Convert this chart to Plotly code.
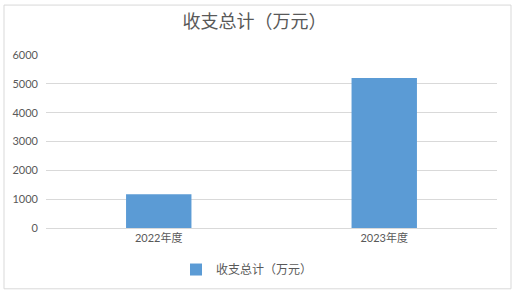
import plotly.graph_objects as go

categories = ["2022年度", "2023年度"]
values = [1170, 5200]
series_name = "收支总计（万元）"
title_text = "收支总计（万元）"
y_ticks = [0, 1000, 2000, 3000, 4000, 5000, 6000]

W, H = 515, 296
L, R, T, B = 46, 18, 55, 66
pw, ph = W - L - R, H - T - B

def px2paper_x(px):
    return (px - L) / pw

def px2paper_y(py):
    return (H - B - py) / ph

fig = go.Figure()
fig.add_trace(go.Bar(
    x=categories, y=values, name=series_name,
    marker=dict(color="#5B9BD5", line=dict(width=0)),
    width=0.29, showlegend=True,
))

fig.update_layout(
    width=W, height=H,
    margin=dict(l=L, r=R, t=T, b=B),
    paper_bgcolor="white", plot_bgcolor="white",
    title=dict(text=title_text, x=0.494, xref="container", xanchor="center",
               y=1 - 22 / H, yanchor="middle",
               font=dict(family="Noto Sans CJK SC", size=18, color="#595959")),
    font=dict(family="Lato, Noto Sans CJK SC", size=11, color="#595959"),
    showlegend=True,
    legend=dict(orientation="h", x=px2paper_x(176), xanchor="left", y=px2paper_y(272), yanchor="middle",
                font=dict(family="Noto Sans CJK SC", size=12, color="#595959"),
                itemwidth=30, bgcolor="rgba(0,0,0,0)"),
    xaxis=dict(showgrid=False, showline=True, linecolor="#D9D9D9", linewidth=1,
               ticks="", tickfont=dict(family="Lato, Noto Sans CJK SC", size=11, color="#595959")),
    yaxis=dict(range=[0, 6000], tickvals=y_ticks, showgrid=True, gridcolor="#D9D9D9",
               gridwidth=1, zeroline=False, showline=False, ticks="",
               ticklabelstandoff=7,
               tickfont=dict(family="Lato", size=11, color="#595959")),
    bargap=0.7,
    shapes=[dict(type="rect", xref="paper", yref="paper",
                 x0=px2paper_x(4), x1=px2paper_x(511),
                 y0=px2paper_y(291.5), y1=px2paper_y(4.5),
                 line=dict(color="#D9D9D9", width=1), fillcolor="rgba(0,0,0,0)", layer="below")],
)

fig.write_html("out.html")
